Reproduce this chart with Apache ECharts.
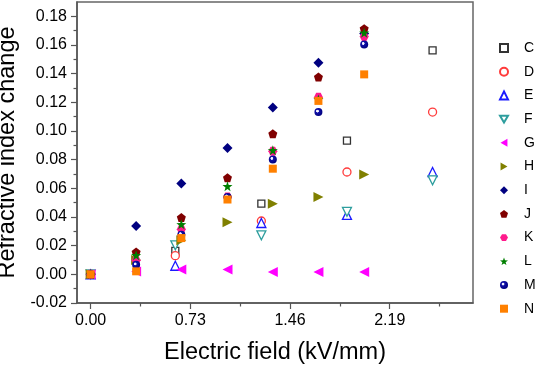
<!DOCTYPE html>
<html>
<head>
<meta charset="utf-8">
<script src="https://cdn.jsdelivr.net/npm/echarts@6/dist/echarts.min.js"></script>
<style>
  html, body { margin: 0; padding: 0; background: #fff; }
  #chart { width: 536px; height: 365px; }
</style>
</head>
<body>
<div id="chart"></div>
<script>
// field values (kV/mm): C-F were measured on a coarser grid than G-N
var xFine = [0, 0.333, 0.664, 1.002, 1.334, 1.668, 2.003];
var xCoarse = [0, 0.62, 1.25, 1.877, 2.504];

var C = [0, 0.0163, 0.0493, 0.0933, 0.1563];
var D = [0, 0.0130, 0.0372, 0.0714, 0.1132];
var E = [0, 0.0060, 0.0358, 0.0415, 0.0714];
var F = [0, 0.0202, 0.0272, 0.0436, 0.0656];

var G = [0, 0.0020, 0.0033, 0.0033, 0.0016, 0.0016, 0.0016];
var H = [0, 0.0100, 0.0237, 0.0364, 0.0493, 0.0540, 0.0696];
var I = [0, 0.0337, 0.0633, 0.0881, 0.1164, 0.1477, 0.1680];
var J = [0, 0.0156, 0.0396, 0.0674, 0.0981, 0.1377, 0.1714];
var K = [0, 0.0098, 0.0314, 0.0540, 0.0858, 0.1235, 0.1660];
var L = [0, 0.0133, 0.0349, 0.0615, 0.0865, 0.1220, 0.1686];
var M = [0, 0.0066, 0.0277, 0.0540, 0.0802, 0.1132, 0.1604];
var N = [0, 0.0021, 0.0253, 0.0522, 0.0737, 0.1210, 0.1395];

var xTicks = [0, 0.73, 1.46, 2.19];
var xMinor = [0.365, 1.095, 1.825, 2.555];
var yTicks = [-0.02, 0, 0.02, 0.04, 0.06, 0.08, 0.10, 0.12, 0.14, 0.16, 0.18];
var yMinor = [-0.01, 0.01, 0.03, 0.05, 0.07, 0.09, 0.11, 0.13, 0.15, 0.17];

var STAR = 'path://M0,-10 L2.35,-3.24 L9.51,-3.09 L3.8,1.24 L5.88,8.09 L0,4 L-5.88,8.09 L-3.8,1.24 L-9.51,-3.09 L-2.35,-3.24 Z';
var PENTA = 'path://M0,-10 L9.51,-3.09 L5.88,8.09 L-5.88,8.09 L-9.51,-3.09 Z';
var HEXA = 'path://M-5,-8.66 L5,-8.66 L10,0 L5,8.66 L-5,8.66 L-10,0 Z';
var TRI_DOWN = 'path://M-10,-8.66 L10,-8.66 L0,8.66 Z';
var TRI_LEFT = 'path://M-8.66,0 L8.66,-10 L8.66,10 Z';
var TRI_RIGHT = 'path://M8.66,0 L-8.66,-10 L-8.66,10 Z';

function pairs(xs, ys) {
  return ys.map(function (y, i) { return [xs[i], y]; });
}

function openSeries(name, xs, ys, symbol, size, color) {
  return {
    name: name, type: 'scatter', data: pairs(xs, ys),
    symbol: symbol, symbolSize: size,
    itemStyle: { color: '#fff', borderColor: color, borderWidth: 1.3, opacity: 1 }
  };
}
function fillSeries(name, xs, ys, symbol, size, color) {
  return {
    name: name, type: 'scatter', data: pairs(xs, ys),
    symbol: symbol, symbolSize: size,
    itemStyle: { color: color, opacity: 1 }
  };
}

var sphere = {
  type: 'radial', x: 0.38, y: 0.38, r: 0.62,
  colorStops: [
    { offset: 0, color: '#ffffff' },
    { offset: 0.22, color: '#e8e8ff' },
    { offset: 0.34, color: '#1010a8' },
    { offset: 1, color: '#000080' }
  ]
};

var series = [
  openSeries('C', xCoarse, C, 'rect', 7, '#333333'),
  openSeries('D', xCoarse, D, 'circle', 8, '#ff3b3b'),
  openSeries('E', xCoarse, E, 'triangle', 9, '#1a1aff'),
  openSeries('F', xCoarse, F, TRI_DOWN, 9, '#2e9e9e'),
  fillSeries('G', xFine, G, TRI_LEFT, 10, '#ff00ff'),
  fillSeries('H', xFine, H, TRI_RIGHT, 10, '#808000'),
  fillSeries('I', xFine, I, 'diamond', 10, '#000080'),
  fillSeries('J', xFine, J, PENTA, 9, '#800000'),
  fillSeries('K', xFine, K, HEXA, 9, '#ff1a8c'),
  fillSeries('L', xFine, L, STAR, 10, '#007f00'),
  fillSeries('M', xFine, M, 'circle', 8, sphere),
  fillSeries('N', xFine, N, 'rect', 8, '#ff8000')
];

var axisCol = '#555';
var chart = echarts.init(document.getElementById('chart'), null, { renderer: 'canvas' });
chart.setOption({
  animation: false,
  textStyle: { fontFamily: 'Liberation Sans, Arial, sans-serif' },
  grid: {
    left: 77, right: 63, top: 2, bottom: 62,
    outerBoundsMode: 'none', containLabel: false,
    show: true, borderColor: '#666', borderWidth: 1.5, backgroundColor: 'transparent'
  },
  legend: {
    orient: 'vertical', left: 499, top: 41, padding: 0,
    itemWidth: 8, itemHeight: 8, itemGap: 9.7,
    textStyle: { fontSize: 14, color: '#000', padding: [0, 0, 0, 11] },
    data: ['C', 'D', 'E', 'F', 'G', 'H', 'I', 'J', 'K', 'L', 'M', 'N']
  },
  xAxis: [{
    type: 'value', min: -0.1, max: 2.8,
    name: 'Electric field (kV/mm)', nameLocation: 'middle', nameGap: 38,
    nameTextStyle: { fontSize: 23.5, color: '#000' },
    axisLine: { show: true, onZero: false, lineStyle: { color: axisCol, width: 1.5 } },
    axisTick: { show: true, customValues: xTicks, length: 6, lineStyle: { color: axisCol, width: 1.2 } },
    axisLabel: { customValues: xTicks, fontSize: 16, color: '#000', margin: 10,
      formatter: function (v) { return v.toFixed(2); } },
    splitLine: { show: false }
  }, {
    type: 'value', min: -0.1, max: 2.8, position: 'bottom',
    axisLine: { show: false, onZero: false },
    axisTick: { show: true, customValues: xMinor, length: 3.5, lineStyle: { color: axisCol, width: 1.2 } },
    axisLabel: { show: false },
    splitLine: { show: false }
  }],
  yAxis: [{
    type: 'value', min: -0.02, max: 0.19,
    name: 'Refractive index change', nameLocation: 'middle', nameGap: 49,
    nameTextStyle: { fontSize: 23.5, color: '#000' },
    axisLine: { show: true, onZero: false, lineStyle: { color: axisCol, width: 1.5 } },
    axisTick: { show: true, customValues: yTicks, length: 6, lineStyle: { color: axisCol, width: 1.2 } },
    axisLabel: { customValues: yTicks, fontSize: 16, color: '#000', margin: 10,
      formatter: function (v) { return v.toFixed(2); } },
    splitLine: { show: false }
  }, {
    type: 'value', min: -0.02, max: 0.19, position: 'left',
    axisLine: { show: false, onZero: false },
    axisTick: { show: true, customValues: yMinor, length: 3.5, lineStyle: { color: axisCol, width: 1.2 } },
    axisLabel: { show: false },
    splitLine: { show: false }
  }],
  series: series
});
</script>
</body>
</html>
